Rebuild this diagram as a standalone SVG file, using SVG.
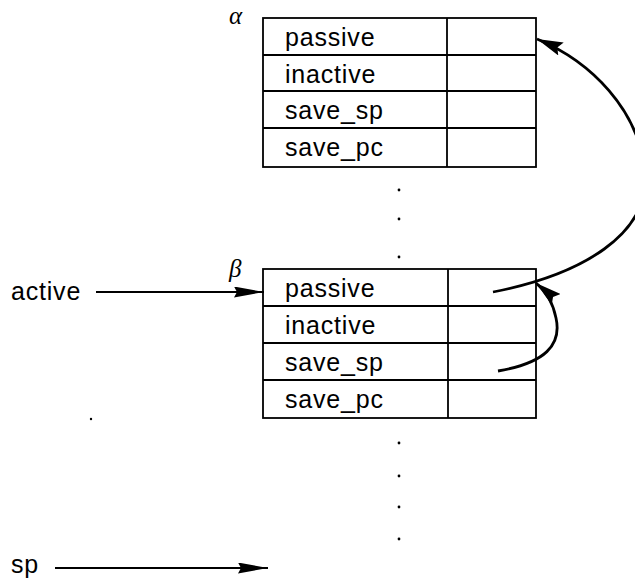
<svg xmlns="http://www.w3.org/2000/svg" width="635" height="582" viewBox="0 0 635 582">
  <style>
    .cell { fill: none; stroke: #000; stroke-width: 1.8; }
    .lbl { font-family: "Liberation Sans", Arial, sans-serif; font-size: 25px; letter-spacing: 0.8px; fill: #000; }
    .greek { font-family: "Liberation Serif", "DejaVu Serif", serif; font-style: italic; font-size: 25px; fill: #000; }
    .wire { fill: none; stroke: #000; stroke-width: 2; }
    .curve { fill: none; stroke: #000; stroke-width: 2.8; }
    .dot { fill: #000; }
  </style>
  <defs>
    <!-- long narrow head for the straight pointers -->
    <marker id="head" viewBox="0 0 30 11" refX="30" refY="5.5" markerWidth="30" markerHeight="11" markerUnits="userSpaceOnUse" orient="auto">
      <path d="M0,0 L30,5.5 L0,11 L3,5.5 Z" fill="#000"/>
    </marker>
    <!-- head for the curved links -->
    <marker id="chead" viewBox="0 0 26 14" refX="26" refY="7" markerWidth="26" markerHeight="14" markerUnits="userSpaceOnUse" orient="auto">
      <path d="M0,0 L26,7 L0,14 L4,7 Z" fill="#000"/>
    </marker>
  </defs>

  <!-- frame alpha -->
  <g id="frame-alpha">
    <text class="greek" x="229" y="24">α</text>
    <rect class="cell" x="263" y="18" width="273" height="149"/>
    <line class="cell" x1="263" y1="55" x2="536" y2="55"/>
    <line class="cell" x1="263" y1="91" x2="536" y2="91"/>
    <line class="cell" x1="263" y1="128" x2="536" y2="128"/>
    <line class="cell" x1="447" y1="18" x2="447" y2="167"/>
    <text class="lbl" x="285" y="46">passive</text>
    <text class="lbl" x="285" y="83">inactive</text>
    <text class="lbl" x="285" y="119">save_sp</text>
    <text class="lbl" x="285" y="156">save_pc</text>
  </g>

  <!-- frame beta -->
  <g id="frame-beta">
    <text class="greek" x="229" y="277">β</text>
    <rect class="cell" x="263" y="269" width="273" height="149"/>
    <line class="cell" x1="263" y1="306" x2="536" y2="306"/>
    <line class="cell" x1="263" y1="343" x2="536" y2="343"/>
    <line class="cell" x1="263" y1="380" x2="536" y2="380"/>
    <line class="cell" x1="448" y1="269" x2="448" y2="418"/>
    <text class="lbl" x="285" y="297">passive</text>
    <text class="lbl" x="285" y="334">inactive</text>
    <text class="lbl" x="285" y="371">save_sp</text>
    <text class="lbl" x="285" y="408">save_pc</text>
  </g>

  <!-- pointer labels -->
  <g id="label-active">
    <text class="lbl" x="11" y="300">active</text>
  </g>
  <g id="label-sp">
    <text class="lbl" x="11" y="573">sp</text>
  </g>

  <!-- ellipsis dots -->
  <g id="dots">
    <circle class="dot" cx="399" cy="190" r="1.4"/>
    <circle class="dot" cx="399" cy="219" r="1.4"/>
    <circle class="dot" cx="399" cy="257" r="1.4"/>
    <circle class="dot" cx="399" cy="443" r="1.4"/>
    <circle class="dot" cx="399" cy="476" r="1.4"/>
    <circle class="dot" cx="399" cy="507" r="1.4"/>
    <circle class="dot" cx="399" cy="539" r="1.4"/>
    <circle class="dot" cx="91" cy="419" r="1.2"/>
  </g>

  <!-- connectors -->
  <g id="connectors">
    <line class="wire" x1="96" y1="292" x2="264" y2="292" marker-end="url(#head)"/>
    <line class="wire" x1="55" y1="568" x2="268" y2="568" marker-end="url(#head)"/>
    <path class="curve" d="M493,292 C580,275 652,235 645,170 C638,110 592,62 537,39" marker-end="url(#chead)"/>
    <path class="curve" d="M498,371 C545,363 562,345 556,318 C553,303 547,292 536,283" marker-end="url(#chead)"/>
  </g>
</svg>
